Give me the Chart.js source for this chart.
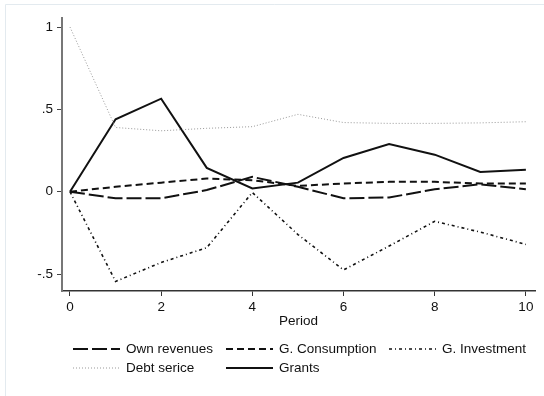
<!DOCTYPE html>
<html>
<head>
<meta charset="utf-8">
<script src="https://cdn.jsdelivr.net/npm/chart.js@4/dist/chart.umd.min.js"></script>
<style>
  body { margin: 0; background: #fff; }
  canvas { display: block; }
</style>
</head>
<body>
<canvas id="grafico" width="544" height="396"></canvas>
<script>
// datos por periodo
const periodos = [0, 1, 2, 3, 4, 5, 6, 7, 8, 9, 10];
const ingresosPropios = [0, -0.04, -0.04, 0.01, 0.09, 0.03, -0.04, -0.035, 0.015, 0.045, 0.015];
const consumo = [0, 0.03, 0.055, 0.08, 0.07, 0.035, 0.05, 0.06, 0.06, 0.05, 0.05];
const inversion = [0, -0.545, -0.43, -0.34, -0.005, -0.26, -0.475, -0.33, -0.18, -0.245, -0.32];
const deuda = [1.0, 0.39, 0.37, 0.385, 0.395, 0.47, 0.42, 0.415, 0.415, 0.418, 0.425];
const donaciones = [0, 0.44, 0.565, 0.145, 0.02, 0.055, 0.205, 0.29, 0.225, 0.12, 0.133];

const ticksX = [0, 2, 4, 6, 8, 10];
const ticksY = [-0.5, 0, 0.5, 1];

const fuente = "'Liberation Sans', Arial, sans-serif";
const tamTexto = 13.5;

function puntos(valores) {
    return periodos.map((p, i) => ({ x: p, y: valores[i] }));
}

function serie(nombre, valores, color, ancho, guiones) {
    return {
        label: nombre,
        data: puntos(valores),
        borderColor: color,
        borderWidth: ancho,
        borderDash: guiones,
        pointRadius: 0,
        tension: 0,
        fill: false
    };
}

// leyenda en rejilla de 3 columnas, dibujada a mano
const leyendaRejilla = {
    id: 'leyendaRejilla',
    afterDraw(chart) {
        const c = chart.ctx;
        const colX = [73, 226, 389];
        const filaY = [349, 368];
        chart.data.datasets.forEach((ds, i) => {
            const x = colX[i % 3];
            const y = filaY[Math.floor(i / 3)];
            c.save();
            c.strokeStyle = ds.borderColor;
            c.lineWidth = ds.borderWidth;
            c.setLineDash(ds.borderDash || []);
            c.beginPath();
            c.moveTo(x, y);
            c.lineTo(x + 47, y);
            c.stroke();
            c.setLineDash([]);
            c.fillStyle = '#111';
            c.font = tamTexto + 'px ' + fuente;
            c.textBaseline = 'middle';
            c.fillText(ds.label, x + 53, y + 0.5);
            c.restore();
        });
    },
    beforeDraw(chart) {
        const c = chart.ctx;
        c.save();
        c.fillStyle = '#fff';
        c.fillRect(0, 0, chart.width, chart.height);
        c.strokeStyle = '#e3eaef';
        c.lineWidth = 1;
        c.beginPath();
        c.moveTo(5.5, chart.height);
        c.lineTo(5.5, 4.5);
        c.lineTo(chart.width, 4.5);
        c.stroke();
        c.restore();
    }
};

const ctx = document.getElementById('grafico').getContext('2d');

const grafico = new Chart(ctx, {
    type: 'line',
    data: {
        datasets: [
            serie('Own revenues', ingresosPropios, '#111', 2, [15, 4]),
            serie('G. Consumption', consumo, '#111', 2, [7, 4]),
            serie('G. Investment', inversion, '#111', 1.6, [3, 3, 1, 3]),
            serie('Debt serice', deuda, '#999', 1, [1, 2]),
            serie('Grants', donaciones, '#111', 2, [])
        ]
    },
    options: {
        responsive: false,
        animation: false,
        layout: { padding: { left: 0, top: 18, right: 9, bottom: 65 } },
        plugins: {
            legend: { display: false },
            tooltip: { enabled: false }
        },
        scales: {
            x: {
                type: 'linear',
                min: -0.175,
                max: 10.2,
                afterFit(scale) { scale.height = 40; },
                afterBuildTicks(scale) { scale.ticks = ticksX.map(v => ({ value: v })); },
                border: { display: true, color: '#333', width: 1.5 },
                grid: { drawOnChartArea: false, drawTicks: true, tickLength: 5, color: '#333', lineWidth: 1 },
                ticks: { color: '#111', padding: 3, maxRotation: 0, font: { family: fuente, size: tamTexto } },
                title: {
                    display: true,
                    text: 'Period',
                    color: '#111',
                    padding: { top: 0, bottom: 1.5 },
                    font: { family: fuente, size: tamTexto }
                }
            },
            y: {
                min: -0.603,
                max: 1.055,
                afterFit(scale) { scale.width = 62; },
                afterBuildTicks(scale) { scale.ticks = ticksY.map(v => ({ value: v })); },
                border: { display: true, color: '#777', width: 2 },
                grid: { drawOnChartArea: false, drawTicks: true, tickLength: 5, color: '#444', lineWidth: 1 },
                ticks: {
                    color: '#111',
                    padding: 4,
                    font: { family: fuente, size: tamTexto },
                    callback: v => v === 0 ? '0' : String(v).replace(/^(-?)0\./, '$1.')
                }
            }
        }
    },
    plugins: [leyendaRejilla]
});
</script>
</body>
</html>
